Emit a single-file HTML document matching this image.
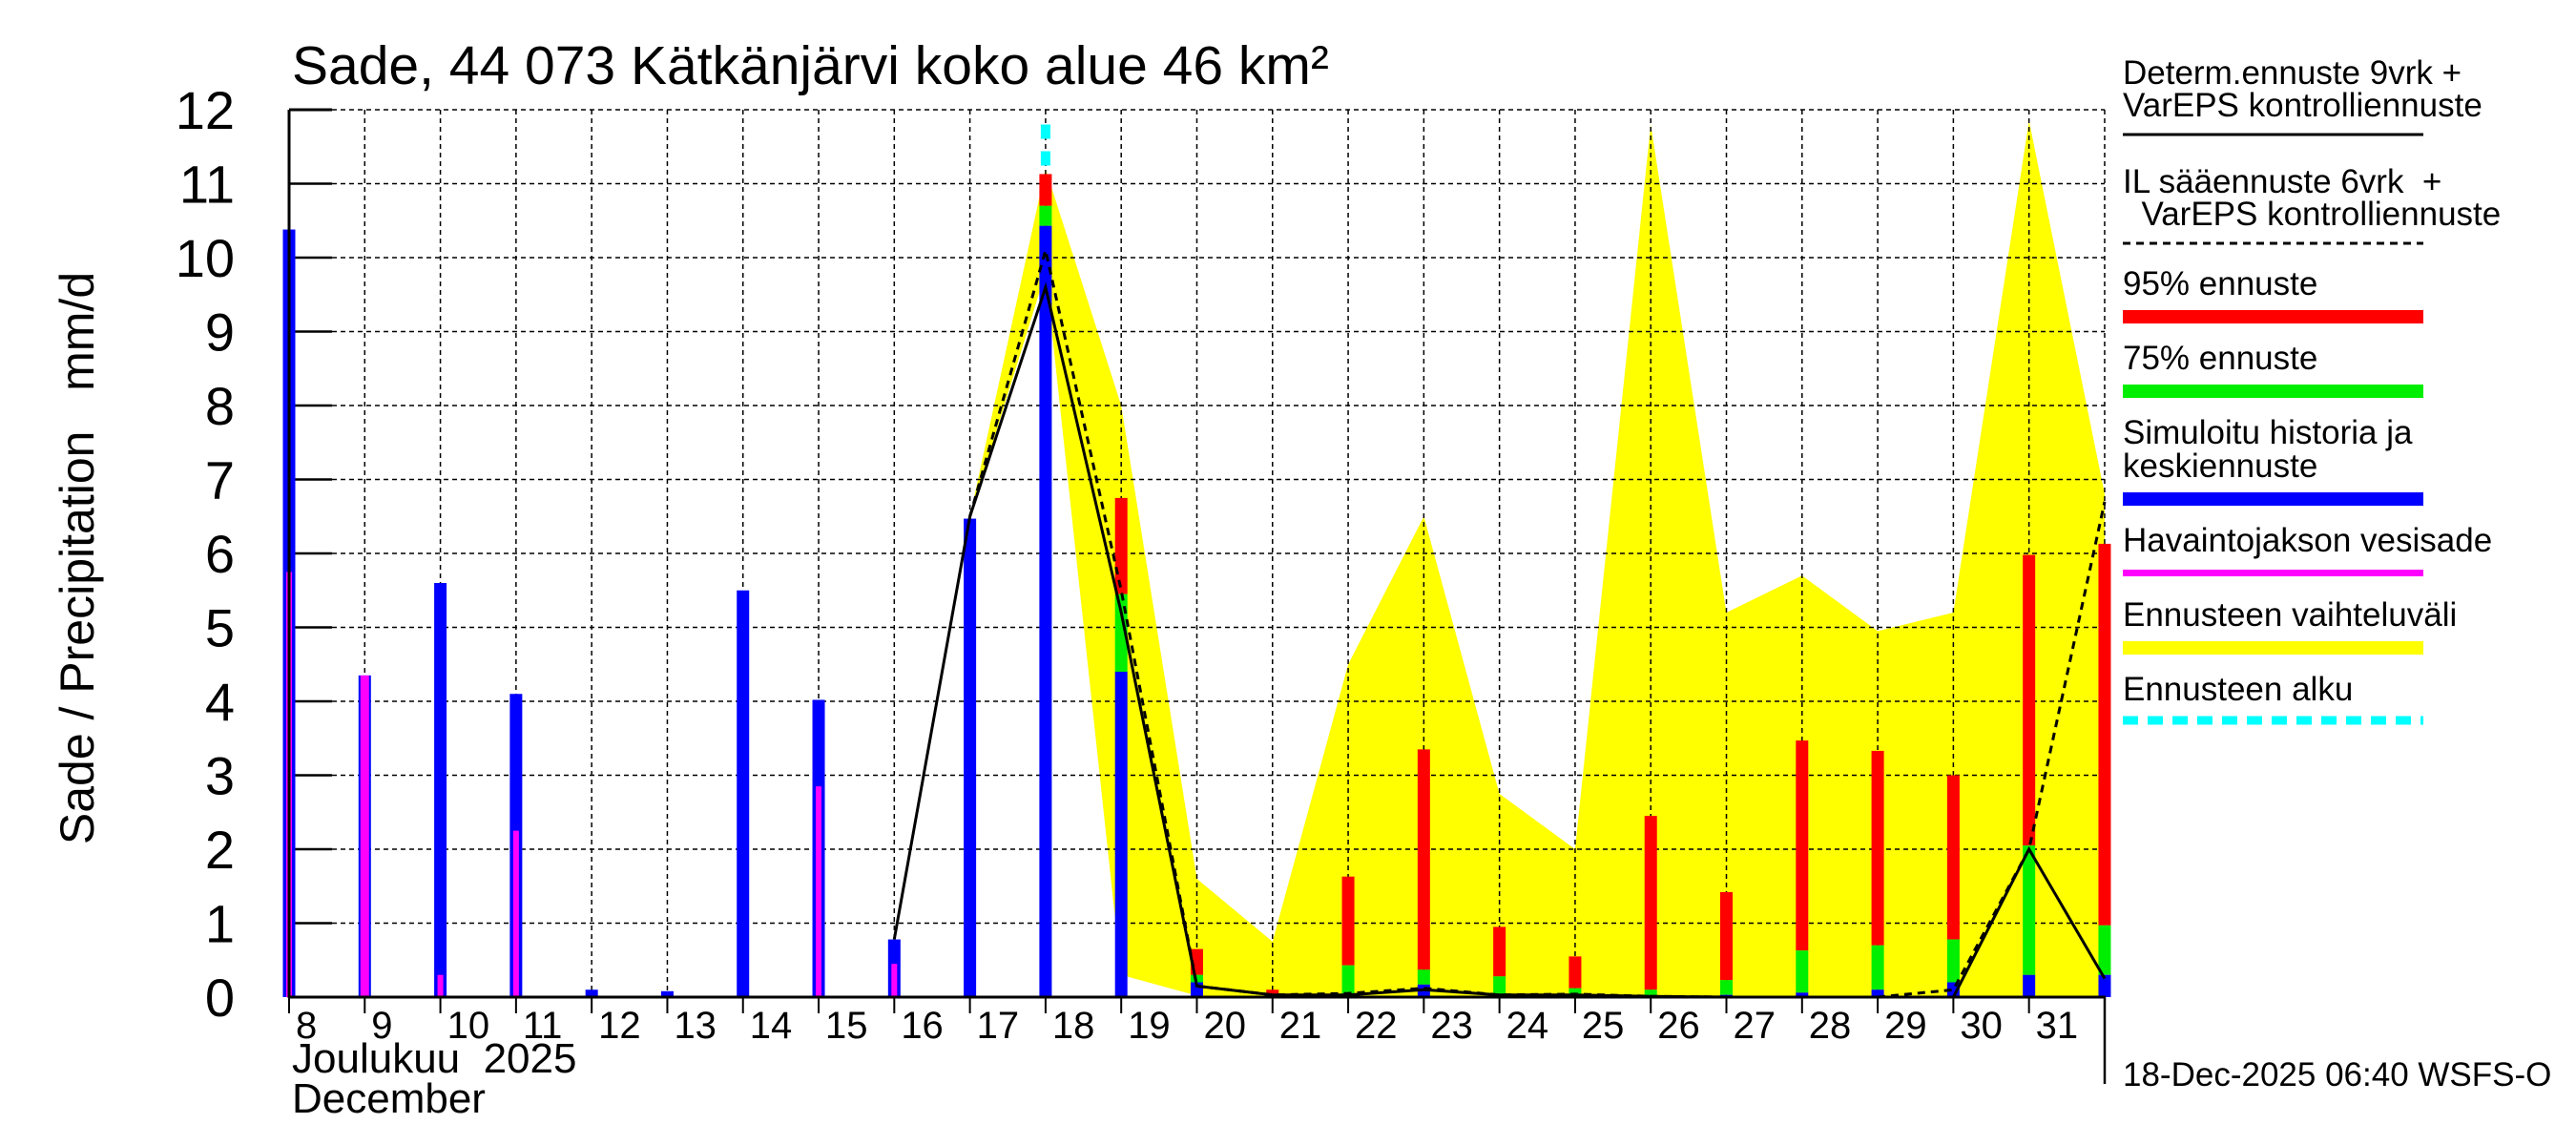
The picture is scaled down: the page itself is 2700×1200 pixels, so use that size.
<!DOCTYPE html>
<html><head><meta charset="utf-8">
<style>html,body{margin:0;padding:0;background:#fff}svg{display:block}</style>
</head><body>
<svg id="s" xmlns="http://www.w3.org/2000/svg" width="2700" height="1200" viewBox="0 0 2700 1200" font-family="Liberation Sans, sans-serif"></svg>
<script>
const s=document.getElementById('s');
const X=d=>303+(d-8)*79.29, Y=v=>1045-v*77.5;
let h='';
const up=[[17,6.5],[18,11.2],[19,8.0],[20,1.6],[21,0.75],[22,4.5],[23,6.5],[24,2.75],[25,2.0],[26,11.8],[27,5.2],[28,5.7],[29,4.95],[30,5.2],[31,11.85],[32,6.8]];
const lo=[[32,0],[21,0],[20,0.02],[19,0.3],[18,9.8],[17,6.5]];
h+='<polygon fill="#ffff00" points="'+up.concat(lo).map(p=>X(p[0]).toFixed(1)+','+Y(p[1]).toFixed(1)).join(' ')+'"/>';
for(let v=1;v<=12;v++){h+=`<line x1="303" x2="2206" y1="${Y(v)}" y2="${Y(v)}" stroke="#000" stroke-width="1.5" stroke-dasharray="5,4"/>`;
 h+=`<line x1="303" x2="348" y1="${Y(v)}" y2="${Y(v)}" stroke="#000" stroke-width="2.5"/>`;}
for(let d=9;d<=32;d++){h+=`<line x1="${X(d)}" x2="${X(d)}" y1="115" y2="1045" stroke="#000" stroke-width="1.5" stroke-dasharray="5,4"/>`;}
function bar(d,a,b,c){h+=`<rect x="${X(d)-6.5}" y="${Y(b)}" width="13" height="${Y(a)-Y(b)}" fill="${c}"/>`;}
const blue={8:10.38,9:4.35,10:5.6,11:4.1,12:0.1,13:0.08,14:5.5,15:4.02,16:0.78,17:6.47,18:10.43,19:4.4,20:0.2,22:0.05,23:0.17,24:0.04,27:0.03,28:0.06,29:0.1,30:0.2,31:0.3,32:0.3};
const fc={18:[10.43,10.7,11.13],19:[4.4,5.45,6.75],20:[0.2,0.3,0.65],21:[0,0.02,0.1],22:[0.05,0.43,1.63],23:[0.17,0.37,3.35],24:[0.04,0.28,0.95],25:[0.02,0.12,0.55],26:[0,0.1,2.45],27:[0.03,0.23,1.42],28:[0.06,0.63,3.47],29:[0.1,0.7,3.33],30:[0.2,0.78,3.0],31:[0.3,2.05,5.98],32:[0.3,0.97,6.13]};
for(const d in fc){const f=fc[d];bar(+d,f[1],f[2],'#ff0000');bar(+d,f[0],f[1],'#00ee00');}
for(const d in blue)bar(+d,0,blue[d],'#0000ff');
const mag={8:5.75,9:4.35,10:0.3,11:2.25,15:2.85,16:0.45};
for(const d in mag){const w=d==9?9:6;h+=`<rect x="${X(+d)-w/2}" y="${Y(mag[d])}" width="${w}" height="${Y(0)-Y(mag[d])}" fill="#ff00ff"/>`;}
const sol=[[16,0.78],[17,6.5],[18,9.6],[19,5.2],[20,0.15],[21,0.03],[22,0.03],[23,0.1],[24,0.03],[25,0.03],[26,0.01],[27,0],[28,0],[29,0],[30,0],[31,2.0],[32,0.25]];
const das=[[17,6.5],[18,10.1],[19,5.5],[20,0.15],[21,0.03],[22,0.05],[23,0.12],[24,0.03],[25,0.04],[26,0.01],[27,0],[28,0],[29,0],[30,0.1],[31,2.0],[32,6.7]];
const pts=a=>a.map(p=>X(p[0]).toFixed(1)+','+Y(p[1]).toFixed(1)).join(' ');
h+=`<polyline fill="none" stroke="#000" stroke-width="3" points="${pts(sol)}"/>`;
h+=`<polyline fill="none" stroke="#000" stroke-width="3" stroke-dasharray="8,6" points="${pts(das)}"/>`;
h+=`<line x1="${X(18)}" x2="${X(18)}" y1="${Y(11.8)}" y2="${Y(11.1)}" stroke="#00ffff" stroke-width="10" stroke-dasharray="15,13"/>`;
h+=`<line x1="303" x2="303" y1="115" y2="1046" stroke="#000" stroke-width="3"/>`;
h+=`<line x1="303" x2="348" y1="115" y2="115" stroke="#000" stroke-width="3"/>`;
h+=`<line x1="302" x2="2207" y1="1045" y2="1045" stroke="#000" stroke-width="3"/>`;
h+=`<line x1="2206" x2="2206" y1="1045" y2="1136" stroke="#000" stroke-width="2.5"/>`;
for(let d=8;d<=31;d++){h+=`<line x1="${X(d)}" x2="${X(d)}" y1="1045" y2="1062" stroke="#000" stroke-width="2"/>`;
 h+=`<text x="${X(d)+7}" y="1088" font-size="40">${d}</text>`;}
for(let v=0;v<=12;v++)h+=`<text x="246" y="${Y(v)+20}" font-size="56" text-anchor="end">${v}</text>`;
h+=`<text x="306" y="88" font-size="57">Sade, 44 073 Kätkänjärvi koko alue 46 km²</text>`;
h+=`<text x="306" y="1124" font-size="44" xml:space="preserve">Joulukuu  2025</text><text x="306" y="1166" font-size="44">December</text>`;
h+=`<text transform="translate(98,585) rotate(-90)" font-size="50" text-anchor="middle" xml:space="preserve">Sade / Precipitation   mm/d</text>`;
const L=2225,R=2540,fs=35;
const t=(y,s)=>h+=`<text x="${L}" y="${y}" font-size="${fs}" xml:space="preserve">${s}</text>`;
t(88,'Determ.ennuste 9vrk +');t(122,'VarEPS kontrolliennuste');
h+=`<line x1="${L}" x2="${R}" y1="141" y2="141" stroke="#000" stroke-width="3"/>`;
t(202,'IL sääennuste 6vrk  +');t(236,'  VarEPS kontrolliennuste');
h+=`<line x1="${L}" x2="${R}" y1="255" y2="255" stroke="#000" stroke-width="3" stroke-dasharray="8,6"/>`;
t(309,'95% ennuste');h+=`<rect x="${L}" y="325" width="${R-L}" height="14" fill="#ff0000"/>`;
t(387,'75% ennuste');h+=`<rect x="${L}" y="403" width="${R-L}" height="14" fill="#00ee00"/>`;
t(465,'Simuloitu historia ja');t(500,'keskiennuste');h+=`<rect x="${L}" y="516" width="${R-L}" height="14" fill="#0000ff"/>`;
t(578,'Havaintojakson vesisade');h+=`<rect x="${L}" y="597" width="${R-L}" height="7" fill="#ff00ff"/>`;
t(656,'Ennusteen vaihteluväli');h+=`<rect x="${L}" y="672" width="${R-L}" height="14" fill="#ffff00"/>`;
t(734,'Ennusteen alku');h+=`<line x1="${L}" x2="${R}" y1="755" y2="755" stroke="#00ffff" stroke-width="9" stroke-dasharray="16,10"/>`;
h+=`<text x="${L}" y="1138" font-size="35">18-Dec-2025 06:40 WSFS-O</text>`;
s.innerHTML=h;
</script>
</body></html>
